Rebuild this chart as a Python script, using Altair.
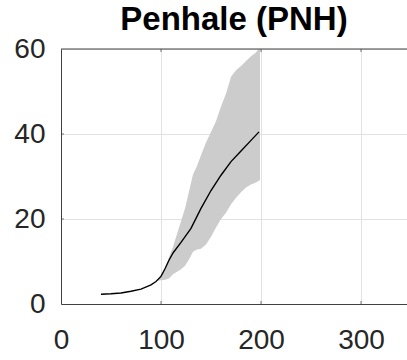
import altair as alt
import pandas as pd

# Median curve
med_day = [40, 50, 60, 70, 80, 90, 95, 100, 104, 108, 112, 120, 130, 140, 150, 160, 170, 180, 190, 198]
med_val = [2.3, 2.4, 2.6, 3.0, 3.5, 4.5, 5.3, 6.5, 8.3, 10.3, 12.0, 14.5, 17.8, 22.5, 26.7, 30.3, 33.5, 36.0, 38.5, 40.5]

# Ensemble envelope (grey band)
band_day = [97, 100, 104, 108, 112, 116, 120, 124, 128, 132, 136, 140, 145, 150, 155, 160, 165, 170, 175, 180, 185, 190, 195, 199]
band_hi = [6.0, 6.8, 8.5, 11.0, 13.5, 16.5, 19.5, 22.5, 26.5, 30.5, 32.5, 35.0, 38.0, 40.5, 43.0, 46.5, 49.5, 53.5, 55.0, 56.0, 57.2, 58.3, 59.2, 60.5]
band_lo = [5.5, 5.6, 5.7, 6.0, 7.0, 7.6, 8.2, 9.0, 10.5, 12.3, 12.8, 13.0, 14.0, 15.8, 18.0, 20.0, 21.5, 23.5, 25.0, 26.3, 27.4, 28.1, 28.6, 29.2]

x_ticks = [0, 100, 200, 300]
y_ticks = [0, 20, 40, 60]
x_domain = [0, 346]
y_domain = [0, 60]
x_inner_ticks = [100, 200, 300]
y_inner_ticks = [20, 40]
title_text = "Penhale (PNH)"

FONT = "Liberation Sans"
AX = "#404040"
LAB = "#262626"
GRID = "#e2e2e2"

med_df = pd.DataFrame({"day": med_day, "v": med_val})
band_df = pd.DataFrame({"day": band_day, "lo": band_lo, "hi": band_hi})

xscale = alt.Scale(domain=x_domain, nice=False, zero=False)
yscale = alt.Scale(domain=y_domain, nice=False, zero=False)

xaxis = alt.Axis(values=x_ticks, title=None, grid=True, gridColor=GRID, domain=True,
                 domainColor=AX, domainWidth=1, ticks=False, tickSize=0,
                 labelFont=FONT, labelFontSize=28, labelColor=LAB, labelPadding=22,
                 labelFlush=False, labelOverlap=False)
yaxis = alt.Axis(values=y_ticks, title=None, grid=True, gridColor=GRID, domain=True,
                 domainColor=AX, domainWidth=1, ticks=False, tickSize=0,
                 labelFont=FONT, labelFontSize=28, labelColor=LAB, labelPadding=16,
                 labelFlush=False, labelOverlap=False)


def X(f):
    return alt.X(f, scale=xscale, axis=xaxis)


def Y(f):
    return alt.Y(f, scale=yscale, axis=yaxis)


band = alt.Chart(band_df).mark_area(color="#cccccc", clip=True, opacity=1).encode(
    x=X("day:Q"), y=Y("lo:Q"), y2="hi:Q",
)

line = alt.Chart(med_df).mark_line(color="black", strokeWidth=1.4, clip=True).encode(
    x=X("day:Q"), y=Y("v:Q"),
)

xt_rows = [{"t": t, "edge": e} for t in x_inner_ticks for e in (y_domain[0], y_domain[1])]
xt = alt.Chart(pd.DataFrame(xt_rows)).mark_tick(
    orient="vertical", size=6, thickness=1, color=AX, clip=True).encode(
    x=X("t:Q"), y=Y("edge:Q"),
)

yt = alt.Chart(pd.DataFrame({"t": y_inner_ticks, "edge": [x_domain[0]] * len(y_inner_ticks)})).mark_tick(
    orient="horizontal", size=6, thickness=1, color=AX, clip=True).encode(
    x=X("edge:Q"), y=Y("t:Q"),
)

top_border = alt.Chart(pd.DataFrame({"a": [0]})).mark_rule(color=AX, strokeWidth=1).encode(
    x=alt.X(datum=x_domain[0], scale=xscale, axis=xaxis),
    x2=alt.X2(datum=x_domain[1]),
    y=alt.Y(datum=y_domain[1], scale=yscale, axis=yaxis),
)

chart = alt.layer(band, line, xt, yt, top_border).properties(
    width=346, height=255,
    title=alt.TitleParams(title_text, font=FONT, fontSize=33, fontWeight="bold",
                          color="black", anchor="middle", baseline="alphabetic", offset=-28),
    autosize=alt.AutoSizeParams(type="none"),
    padding={"left": 61, "top": 49, "right": 0, "bottom": 56},
).configure_view(stroke=None).configure(background="white")

chart.save("out.html", embed_options={"renderer": "svg", "actions": False})
